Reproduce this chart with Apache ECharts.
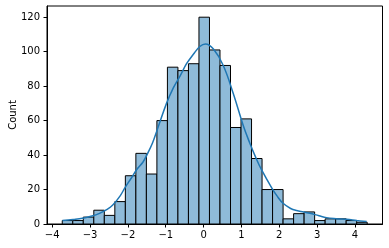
<!DOCTYPE html>
<html>
<head>
<meta charset="utf-8">
<script src="https://cdn.jsdelivr.net/npm/echarts@6/dist/echarts.min.js"></script>
<style>
html,body{margin:0;padding:0;background:#fff;}
#chart{width:389px;height:248px;}
</style>
</head>
<body>
<div id="chart"></div>
<script>
// Histogram: 29 equal-width bins
const binStart = -3.735;
const binWidth = 0.2779;
const counts = [2, 2, 4, 8, 5, 13, 28, 41, 29, 60, 91, 89, 93, 120, 101, 92, 56, 61, 38, 20, 20, 3, 6, 7, 2, 3, 3, 2, 1];

// KDE curve (in count units)
const kdeX = [-3.73, -3.45, -3.2, -2.95, -2.75, -2.55, -2.4, -2.2, -2.08, -1.9, -1.77, -1.6, -1.5, -1.35, -1.22, -0.98, -0.8, -0.62, -0.45, -0.27, -0.1, 0.05, 0.26, 0.52, 0.78, 1.05, 1.22, 1.38, 1.53, 1.8, 1.95, 2.1, 2.3, 2.46, 2.65, 2.81, 3.05, 3.25, 3.5, 3.78, 4.05, 4.31];
const kdeY = [2, 2.6, 3.3, 4.6, 6.2, 8.5, 11, 16.5, 21, 27, 31.5, 36, 40, 47, 55, 70, 79, 86, 93, 98.5, 103, 104.5, 101.5, 92, 76, 57, 47, 38.5, 31.5, 21, 16, 12, 9, 7.8, 7, 6.2, 4.8, 3.7, 3.1, 2.7, 2, 1.4];

const xTicks = [-4, -3, -2, -1, 0, 1, 2, 3, 4];
const yTicks = [0, 20, 40, 60, 80, 100, 120];

const bins = counts.map((c, i) => [binStart + i * binWidth, binStart + (i + 1) * binWidth, c]);
const kde = kdeX.map((x, i) => [x, kdeY[i]]);

const FONT = 'DejaVu Sans';
const fmt = v => String(v).replace('-', '\u2212');

const chart = echarts.init(document.getElementById('chart'), null, {renderer: 'canvas'});
chart.setOption({
  animation: false,
  backgroundColor: '#fff',
  grid: {left: 47, right: 6.5, top: 6, bottom: 24, containLabel: false, outerBoundsMode: 'none',
         show: true, borderColor: '#000', borderWidth: 1, backgroundColor: 'transparent'},
  xAxis: {
    type: 'value', min: -4.138, max: 4.728,
    splitLine: {show: false},
    axisLine: {show: true, onZero: false, lineStyle: {color: '#000', width: 1}},
    axisTick: {show: true, length: 3.5, inside: false, customValues: xTicks, lineStyle: {color: '#000', width: 1}},
    axisLabel: {customValues: xTicks, margin: 6, color: '#000', fontFamily: FONT, fontSize: 10, formatter: fmt}
  },
  yAxis: {
    type: 'value', min: 0, max: 126.5, interval: 20,
    name: 'Count', nameLocation: 'middle', nameGap: 29, nameMoveOverlap: false,
    nameTextStyle: {color: '#000', fontFamily: FONT, fontSize: 10},
    splitLine: {show: false},
    axisLine: {show: true, onZero: false, lineStyle: {color: '#000', width: 1}},
    axisTick: {show: true, length: 3.5, inside: false, customValues: yTicks, lineStyle: {color: '#000', width: 1}},
    axisLabel: {customValues: yTicks, margin: 7, color: '#000', fontFamily: FONT, fontSize: 10}
  },
  series: [
    {
      type: 'custom',
      data: bins,
      clip: true,
      renderItem: function (params, api) {
        const p0 = api.coord([api.value(0), api.value(2)]);
        const p1 = api.coord([api.value(1), 0]);
        return {
          type: 'rect',
          shape: {x: p0[0], y: p0[1], width: p1[0] - p0[0], height: p1[1] - p0[1]},
          style: {fill: '#8fbbd9', stroke: '#000', lineWidth: 1}
        };
      }
    },
    {
      type: 'line',
      data: kde,
      smooth: 0.4,
      showSymbol: false,
      symbol: 'none',
      lineStyle: {color: '#1f77b4', width: 1.5},
      z: 5
    }
  ]
});
</script>
</body>
</html>
